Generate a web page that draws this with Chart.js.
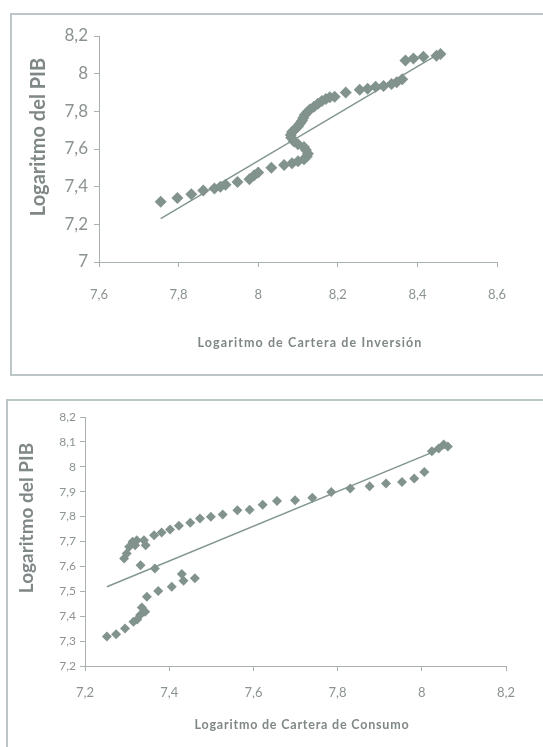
<!DOCTYPE html>
<html>
<head>
<meta charset="utf-8">
<script src="https://cdn.jsdelivr.net/npm/chart.js@4"></script>
<style>
    body { margin: 0; background: #ffffff; width: 543px; height: 747px; overflow: hidden; position: relative; font-family: Lato, sans-serif; }
    .frame { position: absolute; border: 2px solid #bcc6c9; box-sizing: border-box; }
    #frame-top { left: 10px; top: 13px; width: 540px; height: 363px; border-right: none; }
    #frame-bottom { left: 6px; top: 399px; width: 545px; height: 360px; border-right: none; border-bottom: none; }
    canvas { position: absolute; left: 0; }
    #chart-inversion { top: 0; }
    #chart-consumo { top: 380px; }
</style>
</head>
<body>
<div class="frame" id="frame-top"></div>
<div class="frame" id="frame-bottom"></div>
<canvas id="chart-inversion" width="543" height="380"></canvas>
<canvas id="chart-consumo" width="543" height="367"></canvas>
<script>
// Logaritmo de Cartera de Inversión vs Logaritmo del PIB
const INV_X = [7.755, 7.797, 7.832, 7.862, 7.89, 7.905, 7.918, 7.948, 7.978, 7.99, 8.0, 8.033, 8.065, 8.085,
    8.10, 8.115, 8.122, 8.125, 8.12, 8.115, 8.10, 8.09, 8.083, 8.082, 8.085, 8.09, 8.095, 8.10, 8.105, 8.11,
    8.113, 8.117, 8.123, 8.13, 8.14, 8.15, 8.16, 8.17, 8.18, 8.192, 8.22, 8.255, 8.275, 8.295, 8.315, 8.335,
    8.348, 8.362, 8.37, 8.39, 8.415, 8.448, 8.458];
const INV_Y = [7.32, 7.34, 7.36, 7.38, 7.39, 7.40, 7.41, 7.425, 7.44, 7.46, 7.475, 7.50, 7.515, 7.525,
    7.535, 7.545, 7.56, 7.575, 7.595, 7.61, 7.625, 7.64, 7.66, 7.675, 7.69, 7.70, 7.71, 7.72, 7.735, 7.75,
    7.765, 7.78, 7.795, 7.81, 7.825, 7.84, 7.855, 7.865, 7.875, 7.878, 7.90, 7.915, 7.92, 7.93, 7.935, 7.945,
    7.955, 7.97, 8.07, 8.08, 8.09, 8.095, 8.105];
const INV_TREND_X = [7.755, 8.458];
const INV_TREND_Y = [7.23, 8.11];
const INV_X_TICKS = ["7,6", "7,8", "8", "8,2", "8,4", "8,6"];
const INV_Y_TICKS = ["7", "7,2", "7,4", "7,6", "7,8", "8", "8,2"];

// Logaritmo de Cartera de Consumo vs Logaritmo del PIB
const CON_X = [7.252, 7.274, 7.295, 7.315, 7.324, 7.331, 7.335, 7.343, 7.347, 7.374, 7.406, 7.430, 7.434,
    7.461, 7.332, 7.366, 7.293, 7.299, 7.305, 7.313, 7.319, 7.323, 7.340, 7.344, 7.364, 7.382, 7.402, 7.423,
    7.450, 7.473, 7.499, 7.527, 7.562, 7.591, 7.622, 7.656, 7.699, 7.740, 7.785, 7.830, 7.876, 7.915, 7.953,
    7.982, 8.006, 8.024, 8.040, 8.052, 8.062];
const CON_Y = [7.318, 7.328, 7.351, 7.378, 7.387, 7.405, 7.435, 7.418, 7.478, 7.501, 7.518, 7.569, 7.542,
    7.552, 7.605, 7.592, 7.632, 7.652, 7.679, 7.699, 7.685, 7.705, 7.705, 7.685, 7.725, 7.736, 7.748, 7.763,
    7.775, 7.792, 7.799, 7.808, 7.826, 7.828, 7.848, 7.863, 7.866, 7.876, 7.899, 7.913, 7.922, 7.933, 7.939,
    7.953, 7.979, 8.062, 8.073, 8.090, 8.082];
const CON_TREND_X = [7.252, 8.062];
const CON_TREND_Y = [7.518, 8.084];
const CON_X_TICKS = ["7,2", "7,4", "7,6", "7,8", "8", "8,2"];
const CON_Y_TICKS = ["7,2", "7,3", "7,4", "7,5", "7,6", "7,7", "7,8", "7,9", "8", "8,1", "8,2"];

const MARKER_COLOR = "#82938e";
const TEXT_COLOR = "#8b9292";
const TITLE_COLOR = "#7f8787";
const AXIS_COLOR = "#a9b0b0";

// titles drawn by hand so they can sit exactly where the scan has them
const titlesPlugin = {
    id: "titles",
    afterDraw(chart, args, opts) {
        const ctx = chart.ctx;
        ctx.save();
        ctx.fillStyle = TITLE_COLOR;
        ctx.textAlign = "center";
        ctx.textBaseline = "middle";

        ctx.font = opts.xFont;
        ctx.letterSpacing = opts.xSpacing;
        ctx.fillText(opts.xText, opts.xPos[0], opts.xPos[1]);

        ctx.letterSpacing = "0px";
        ctx.translate(opts.yPos[0], opts.yPos[1]);
        ctx.rotate(-Math.PI / 2);
        ctx.font = opts.yFont;
        ctx.fillText(opts.yText, 0, 0);
        ctx.restore();
    }
};

const toPoints = (xs, ys) => xs.map((x, i) => ({ x, y: ys[i] }));

const buildChart = (canvas, cfg) => {
    return new Chart(canvas, {
        type: "scatter",
        data: {
            datasets: [
                {
                    data: toPoints(cfg.xs, cfg.ys),
                    pointStyle: "rectRot",
                    pointRadius: cfg.marker,
                    backgroundColor: MARKER_COLOR,
                    borderWidth: 0,
                    order: 1
                },
                {
                    data: toPoints(cfg.trendX, cfg.trendY),
                    showLine: true,
                    pointRadius: 0,
                    borderColor: "#849691",
                    borderWidth: 1.5,
                    order: 2
                }
            ]
        },
        options: {
            responsive: false,
            animation: false,
            layout: { padding: cfg.padding },
            plugins: {
                legend: { display: false },
                tooltip: { enabled: false },
                titles: cfg.titles
            },
            scales: {
                x: {
                    min: cfg.xMin,
                    max: cfg.xMax,
                    afterBuildTicks: s => { s.ticks = cfg.xTicks.map((_, i) => ({ value: cfg.xMin + i * cfg.xStep })); },
                    afterFit: s => { s.height = cfg.xHeight; },
                    grid: { drawOnChartArea: false, tickLength: 5, color: AXIS_COLOR },
                    border: { color: AXIS_COLOR },
                    ticks: {
                        padding: cfg.xTickPad,
                        color: TEXT_COLOR,
                        font: { family: "Lato", size: cfg.xTickSize },
                        callback: (v, i) => cfg.xTicks[i]
                    }
                },
                y: {
                    min: cfg.yMin,
                    max: cfg.yMax,
                    afterBuildTicks: s => { s.ticks = cfg.yTicks.map((_, i) => ({ value: cfg.yMin + i * cfg.yStep })); },
                    afterFit: s => { s.width = cfg.yWidth; },
                    grid: { drawOnChartArea: false, tickLength: 5, color: AXIS_COLOR },
                    border: { color: AXIS_COLOR },
                    ticks: {
                        padding: cfg.yTickPad,
                        color: TEXT_COLOR,
                        font: { family: "Lato", size: cfg.yTickSize },
                        callback: (v, i) => cfg.yTicks[i]
                    }
                }
            }
        },
        plugins: [titlesPlugin]
    });
};

document.addEventListener("DOMContentLoaded", () => {
    buildChart(document.getElementById("chart-inversion"), {
        xs: INV_X, ys: INV_Y, trendX: INV_TREND_X, trendY: INV_TREND_Y,
        marker: 6,
        padding: { top: 36, right: 46, left: 0, bottom: 0 },
        xMin: 7.6, xMax: 8.6, xStep: 0.2, xTicks: INV_X_TICKS,
        yMin: 7, yMax: 8.2, yStep: 0.2, yTicks: INV_Y_TICKS,
        xHeight: 118, yWidth: 99,
        xTickPad: 20, yTickPad: 6,
        xTickSize: 13, yTickSize: 17,
        titles: {
            xText: "Logaritmo de Cartera de Inversión", xFont: "bold 12.5px Lato", xSpacing: "1.1px", xPos: [310, 343],
            yText: "Logaritmo del PIB", yFont: "bold 20px Lato", yPos: [39, 137]
        }
    });

    buildChart(document.getElementById("chart-consumo"), {
        xs: CON_X, ys: CON_Y, trendX: CON_TREND_X, trendY: CON_TREND_Y,
        marker: 5,
        padding: { top: 37, right: 37, left: 0, bottom: 0 },
        xMin: 7.2, xMax: 8.2, xStep: 0.2, xTicks: CON_X_TICKS,
        yMin: 7.2, yMax: 8.2, yStep: 0.1, yTicks: CON_Y_TICKS,
        xHeight: 81, yWidth: 85,
        xTickPad: 14, yTickPad: 4,
        xTickSize: 13, yTickSize: 12,
        titles: {
            xText: "Logaritmo de Cartera de Consumo", xFont: "bold 12.5px Lato", xSpacing: "0.8px", xPos: [302, 345],
            yText: "Logaritmo del PIB", yFont: "bold 19px Lato", yPos: [27, 138]
        }
    });
});
</script>
</body>
</html>
